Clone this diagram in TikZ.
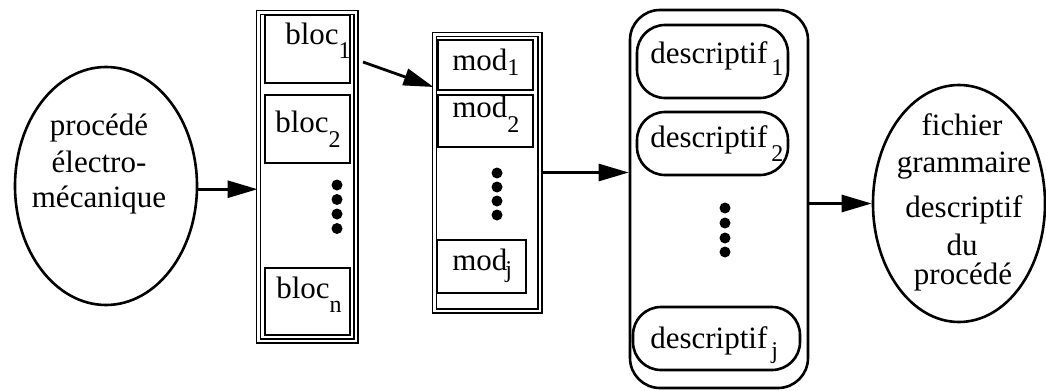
\documentclass[tikz,border=0pt]{standalone}
\usepackage{fontspec}
\setmainfont{Liberation Serif}
\usetikzlibrary{shapes.geometric,arrows.meta}
\newcommand\sbs[2]{\raisebox{-#1}{\fontsize{12}{12}\selectfont #2}}
\begin{document}
\begin{tikzpicture}[x=0.5pt,y=-0.5pt,
  line width=1.3pt,
  txt/.style={font=\fontsize{15.5}{18}\selectfont, inner sep=0pt, anchor=base},
  lbl/.style={txt, anchor=base west},
  box/.style={draw, rectangle, inner sep=0pt},
  dbox/.style={draw, double, line width=0.9pt, double distance=1.1pt, rectangle, inner sep=0pt},
  rbox/.style={draw, rectangle, rounded corners=14pt, inner sep=0pt},
  oval/.style={draw, ellipse, inner sep=0pt},
  arr/.style={-{Triangle[length=15pt,width=8.5pt]}, line width=1.4pt}]
\useasboundingbox (0,0) rectangle (1046,391);

% left ellipse
\node[oval, minimum width=91pt, minimum height=119pt] (proc) at (106,186) {};
\node[txt] (p1) at (99,135) {procédé};
\node[txt] (p2) at (99,172) {électro-};
\node[txt] (p3) at (99,207) {mécanique};

% bloc column
\node[dbox, minimum width=48.6pt, minimum height=164.1pt] (bloccol) at (307,176.5) {};
\node[box, minimum width=42.5pt, minimum height=34pt] (bloc1) at (307.5,49) {};
\node[box, minimum width=42.5pt, minimum height=34pt] (bloc2) at (307.5,129) {};
\node[box, minimum width=42.5pt, minimum height=33.5pt] (blocn) at (307.5,301.5) {};
\node[lbl] (tb1) at (284,45) {bloc\sbs{6.5pt}{1}};
\node[lbl] (tb2) at (274,132) {bloc\sbs{7.5pt}{2}};
\node[lbl] (tbn) at (275,298) {bloc\sbs{7pt}{n}};
\foreach \y in {185,199.5,214,228.5} \fill (337,\y) circle (2.75pt);

% mod column
\node[dbox, minimum width=52.6pt, minimum height=138.1pt] (modcol) at (487,172.5) {};
\node[box, minimum width=47.5pt, minimum height=25pt] (mod1) at (485.5,65) {};
\node[box, minimum width=47.5pt, minimum height=26pt] (mod2) at (485.5,121) {};
\node[box, minimum width=44.5pt, minimum height=26.5pt] (modj) at (481.5,266.5) {};
\node[lbl] (tm1) at (451,70) {mod\sbs{2.5pt}{1}};
\node[lbl] (tm2) at (451,118) {mod\sbs{7pt}{2}};
\node[lbl] (tmj) at (451,270) {mod\kern-1pt\sbs{3.5pt}{j}};
\foreach \y in {173,187,201,215} \fill (497,\y) circle (2.75pt);

% descriptif column
\node[draw, rectangle, rounded corners=15pt, inner sep=0pt, minimum width=89pt, minimum height=189pt] (desccol) at (719,199) {};
\node[rbox, minimum width=75.5pt, minimum height=36.5pt] (desc1) at (712.5,61.5) {};
\node[rbox, minimum width=75.5pt, minimum height=31.5pt] (desc2) at (712.5,143.5) {};
\node[rbox, minimum width=83.5pt, minimum height=31.5pt] (descj) at (716.5,338.5) {};
\node[lbl] (td1) at (649,63) {descriptif\kern2pt\sbs{6pt}{1}};
\node[lbl] (td2) at (649,147) {descriptif\kern2pt\sbs{7pt}{2}};
\node[lbl] (tdj) at (649,348) {descriptif\kern2pt\sbs{5pt}{j}};
\foreach \y in {208,223,238,252} \fill (725,\y) circle (2.75pt);

% right ellipse
\node[oval, minimum width=86pt, minimum height=118.5pt] (fich) at (959,203.5) {};
\node[txt] (f1) at (962,135) {fichier};
\node[txt] (f2) at (964,172) {grammaire};
\node[txt] (f3) at (964,217) {descriptif};
\node[txt] (f4) at (962,255) {du};
\node[txt] (f5) at (963,284) {procédé};

% connectors
\coordinate (a2s) at (363,62);
\coordinate (a2e) at (0,87);
\draw[arr] (proc.-2.5) -- (proc.-2.5 -| bloccol.west);
\draw[arr] (a2s) -- (modcol.west |- a2e);
\draw[arr] (modcol.east) -- (modcol.east -| desccol.west);
\draw[arr] (desccol.east |- fich.west) -- (fich.west);
\end{tikzpicture}
\end{document}
